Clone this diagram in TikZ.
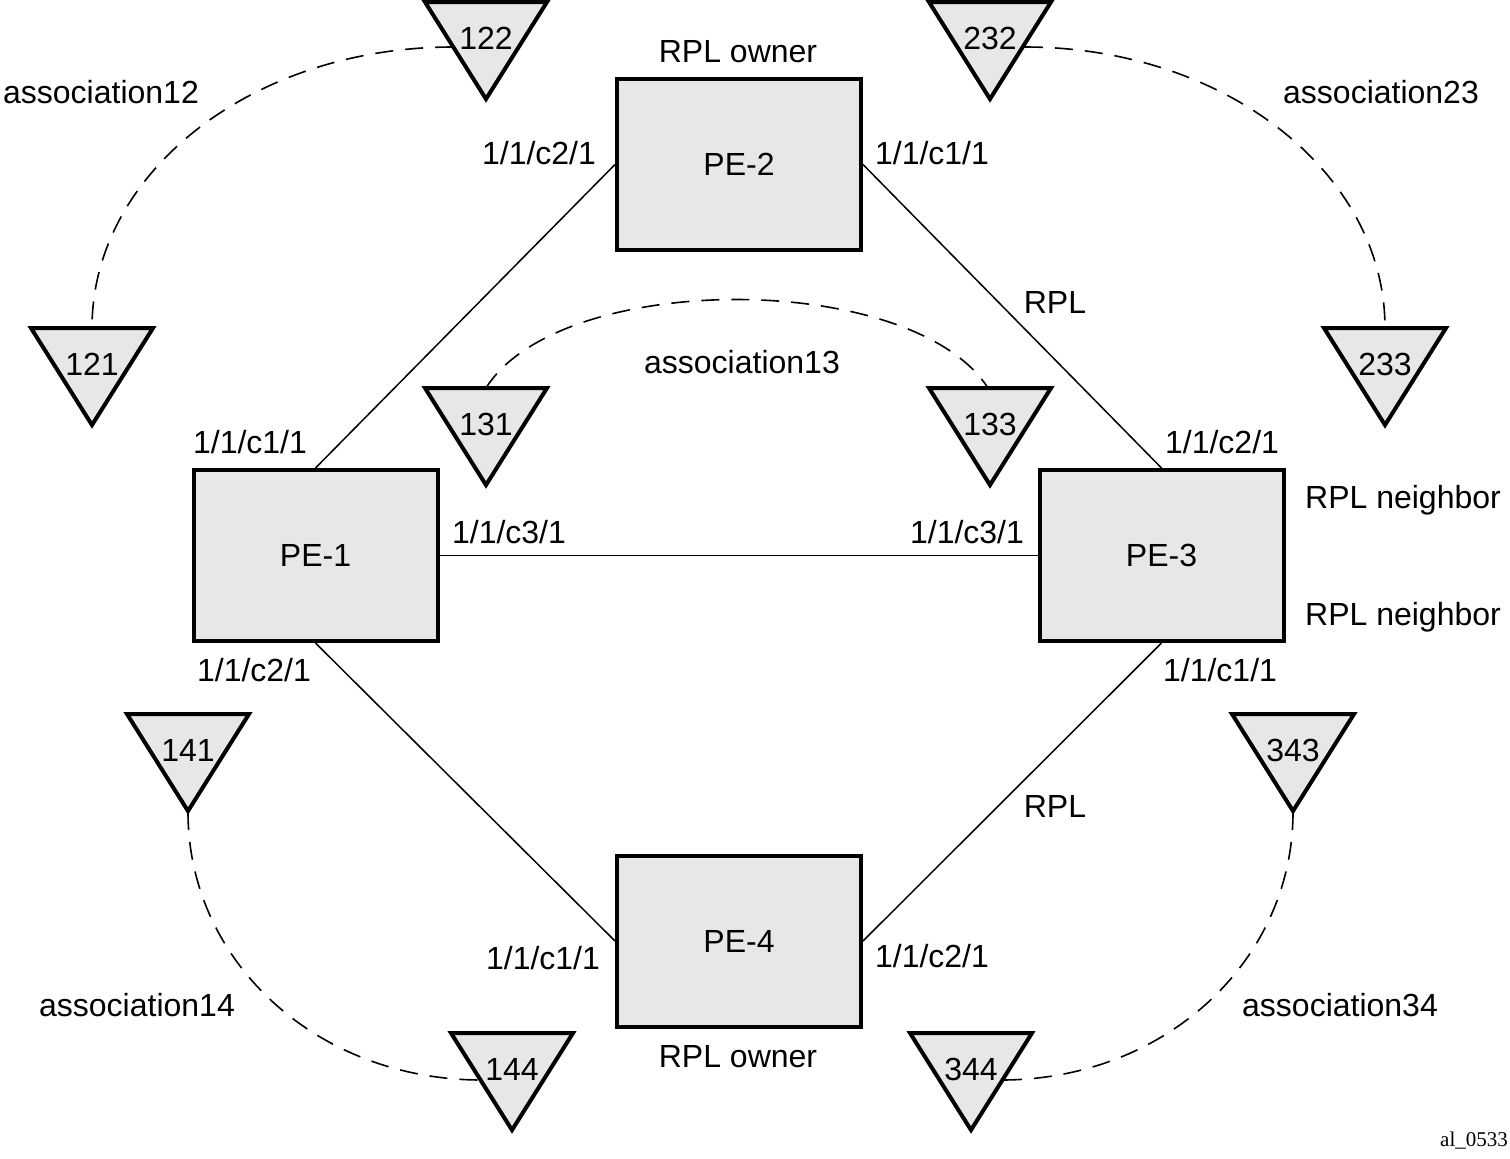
\documentclass[tikz,border=0pt]{standalone}
\usepackage{fontspec}
\setmainfont{Liberation Sans}
\newfontfamily\serifid{Liberation Serif}
\definecolor{boxgray}{HTML}{E6E7E8}
\newcommand\vtri[4]{%
  \draw[trishape] (#2-61,#3) -- (#2+61,#3) -- (#2,#3+97) -- cycle;
  \node[lbl] (#1) at (#2,#3+36) {#4};
}
\begin{document}
\begin{tikzpicture}[x=0.5pt,y=-0.5pt,
  lbl/.style={inner sep=0pt, text height=11.5pt, text depth=0pt, font=\fontsize{16}{18}\selectfont},
  pebox/.style={draw, line width=2pt, fill=boxgray, minimum width=122pt, minimum height=85.5pt, inner sep=0pt, font=\fontsize{16}{18}\selectfont},
  trishape/.style={draw, line width=2pt, fill=boxgray, line join=miter},
  link/.style={line width=0.75pt},
  assoc/.style={line width=0.8pt, dash pattern=on 9pt off 6pt}]
\useasboundingbox (0,0) rectangle (1510,1158);
\node[pebox] (PE1) at (315.5,555.5) {PE-1};
\node[pebox] (PE2) at (739,164.5) {PE-2};
\node[pebox] (PE3) at (1161.5,555.5) {PE-3};
\node[pebox] (PE4) at (739,941) {PE-4};
\draw[link] (PE2.west) -- (PE1.north);
\draw[link] (PE2.east) -- (PE3.north);
\draw[link] (PE1.east) -- (PE3.west);
\draw[link] (PE1.south) -- (PE4.west);
\draw[link] (PE3.south) -- (PE4.east);
% association curves
\coordinate (c122) at (453,47);
\coordinate (c121) at (92,328);
\coordinate (c232) at (1025,47);
\coordinate (c233) at (1385,328);
\coordinate (c131) at (486,388);
\coordinate (c133) at (988,388);
\coordinate (c141) at (188,812);
\coordinate (c144) at (482,1080);
\coordinate (c343) at (1293,812);
\coordinate (c344) at (1001,1080);
\draw[assoc] (c122) .. controls (253,47) and (92,172) .. (c121);
\draw[assoc] (c232) .. controls (1224,47) and (1385,172) .. (c233);
\draw[assoc] (c131) .. controls (560,270) and (912,270) .. (c133);
\draw[assoc] (c141) .. controls (188,961) and (316,1080) .. (c144);
\draw[assoc] (c343) .. controls (1293,961) and (1165,1080) .. (c344);
% triangles
\vtri{t122}{486}{2}{122}
\vtri{t232}{990}{2}{232}
\vtri{t121}{92}{328}{121}
\vtri{t233}{1385}{328}{233}
\vtri{t131}{486}{388}{131}
\vtri{t133}{990}{388}{133}
\vtri{t141}{188}{714}{141}
\vtri{t343}{1293}{714}{343}
\vtri{t144}{512}{1033}{144}
\vtri{t344}{971}{1033}{344}
% labels
\node[lbl] (own2) at (738,51) {RPL owner};
\node[lbl] (p2a) at (539,153) {1/1/c2/1};
\node[lbl] (p2b) at (932,153) {1/1/c1/1};
\node[lbl] (a12) at (101,92) {association12};
\node[lbl] (a23) at (1381,92) {association23};
\node[lbl] (rpl1) at (1055,302) {RPL};
\node[lbl] (a13) at (742,362) {association13};
\node[lbl] (p1a) at (250,442) {1/1/c1/1};
\node[lbl] (p3a) at (1222,442) {1/1/c2/1};
\node[lbl] (nb1) at (1403,497) {RPL neighbor};
\node[lbl] (p1c) at (509,532) {1/1/c3/1};
\node[lbl] (p3c) at (967,532) {1/1/c3/1};
\node[lbl] (nb2) at (1403,614) {RPL neighbor};
\node[lbl] (p1b) at (254,670) {1/1/c2/1};
\node[lbl] (p3b) at (1220,670) {1/1/c1/1};
\node[lbl] (rpl2) at (1055,806) {RPL};
\node[lbl] (p4a) at (543,958) {1/1/c1/1};
\node[lbl] (p4b) at (932,956) {1/1/c2/1};
\node[lbl] (a14) at (137,1005) {association14};
\node[lbl] (a34) at (1340,1005) {association34};
\node[lbl] (own4) at (738,1056) {RPL owner};
\node[inner sep=0pt, font=\serifid\fontsize{10.5}{12}\selectfont] (fig) at (1474,1141) {al\_0533};
\end{tikzpicture}
\end{document}
